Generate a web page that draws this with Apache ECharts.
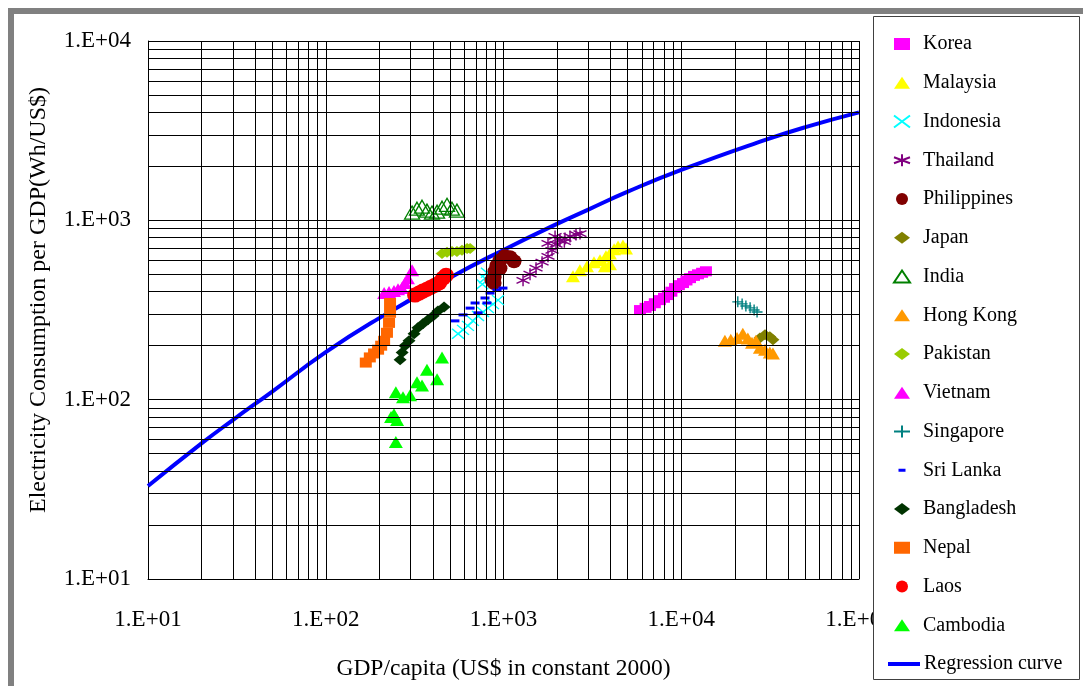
<!DOCTYPE html>
<html>
<head>
<meta charset="utf-8">
<script src="https://cdn.jsdelivr.net/npm/echarts@6/dist/echarts.min.js"></script>
<style>html,body{margin:0;padding:0;background:#fff;}#c{width:1083px;height:686px;}</style>
</head>
<body>
<div id="c"></div>
<script>
// ---- data (GDP/capita in US$, electricity per GDP in Wh/US$) ----
const xTickLabels = ['1.E+01', '1.E+02', '1.E+03', '1.E+04', '1.E+05'];
const yTickLabels = ['1.E+01', '1.E+02', '1.E+03', '1.E+04'];
const minorX = [20,30,40,50,60,70,80,90,200,300,400,500,600,700,800,900,2000,3000,4000,5000,6000,7000,8000,9000,20000,30000,40000,50000,60000,70000,80000,90000];
const minorY = [20,30,40,50,60,70,80,90,200,300,400,500,600,700,800,900,2000,3000,4000,5000,6000,7000,8000,9000];

const korea = [[5860,316],[6300,325],[6670,333],[7100,345],[7590,359],[8000,370],[8410,383],[8800,400],[9220,419],[9700,435],[10230,447],[10700,462],[11200,476],[11800,490],[12420,500],[13100,510],[13770,520]];
const malaysia = [[2460,488],[2690,527],[2950,555],[3230,584],[3490,599],[3720,555],[3970,569],[3770,630],[3970,654],[4190,689],[4410,715],[4700,724],[4890,697]];
const indonesia = [[555,233],[592,245],[631,258],[673,275],[719,293],[767,308],[818,324],[873,341],[931,359],[760,440],[787,475],[807,510]];
const thailand = [[1288,463],[1410,501],[1524,541],[1648,584],[1780,630],[1874,680],[1974,734],[2078,773],[2218,793],[2366,813],[2558,834],[2694,844],[1780,743],[1950,813],[2200,760]];
const philippines = [[862,463],[885,447],[885,482],[896,520],[919,561],[955,598],[1019,630],[1088,622],[1146,591],[955,541]];
const japan = [[27700,221],[29600,230],[31500,224],[32800,216]];
const india = [[306,1105],[326,1161],[348,1191],[371,1133],[396,1105],[423,1118],[451,1176],[481,1221],[513,1161],[547,1133]];
const hongKong = [[17600,213],[19000,216],[20600,221],[22200,233],[23700,219],[25000,208],[26300,213],[27700,195],[29600,190],[31500,183],[32800,181]];
const pakistan = [[451,654],[481,663],[513,671],[547,671],[584,680],[624,697],[649,697]];
const vietnam = [[213,393],[227,398],[242,403],[255,413],[268,419],[279,447],[290,476],[306,527]];
const singapore = [[20800,351],[22000,342],[23100,333],[24400,325],[25700,316],[26700,308]];
const sriLanka = [[533,275],[592,297],[649,324],[692,346],[719,305],[787,369],[807,346],[840,393],[919,408],[993,419]];
const bangladesh = [[262,167],[269,183],[279,200],[294,213],[314,233],[330,252],[352,265],[376,279],[401,293],[428,312],[463,329]];
const nepal = [[168,161],[177,172],[187,181],[197,190],[205,200],[213,213],[221,236],[227,268],[230,305],[230,346]];
const laos = [[318,383],[335,393],[352,403],[371,413],[391,424],[412,435],[434,447],[457,476],[475,494]];
const cambodia = [[248,58],[242,83],[252,77],[233,80],[248,110],[272,103],[298,106],[326,125],[348,120],[371,147],[423,130],[451,172]];
const regression = [[10,33],[20,57],[30,77],[50,111],[100,184],[200,285],[500,479],[1000,684],[2000,955],[3000,1148],[5000,1445],[10000,1910],[30000,2818],[50000,3311],[100000,4000]];

// ---- chart ----
const SERIF = 'Liberation Serif';
const crossPath = 'path://M0,0L10,10M10,0L0,10';
const starPath = 'path://M5,0L5,10M0,2.5L10,7.5M0,7.5L10,2.5';
const plusPath = 'path://M5,0L5,10M0,5L10,5';
const dashIcon = 'path://M0,0L0.01,0M16,12L15.99,12M4.5,4.5L11.5,4.5L11.5,7.5L4.5,7.5Z';

function sc(name, data, symbol, size, color, extra) {
  const s = {
    name: name, type: 'scatter', data: data, symbol: symbol, symbolSize: size, z: 3,
    itemStyle: { color: color, opacity: 1 }
  };
  if (extra) Object.assign(s.itemStyle, extra);
  return s;
}
function lineStroke(c) { return { color: 'rgba(0,0,0,0)', borderColor: c, borderWidth: 1.4 }; }

const series = [
  { name: 'gridlines', type: 'line', data: [], z: 1, silent: true,
    markLine: { silent: true, symbol: ['none', 'none'], animation: false,
      label: { show: false },
      lineStyle: { color: '#000', width: 1, type: 'solid' },
      data: minorX.map(v => ({ xAxis: v })).concat(minorY.map(v => ({ yAxis: v }))) } },
  sc('Korea', korea, 'rect', [12, 10], '#ff00ff'),
  sc('Malaysia', malaysia, 'triangle', [14, 12], '#ffff00'),
  sc('Indonesia', indonesia, crossPath, [12, 10], '#00ffff', lineStroke('#00ffff')),
  sc('Thailand', thailand, starPath, [13, 12], '#800080', lineStroke('#800080')),
  sc('Philippines', philippines, 'circle', [15, 14], '#800000'),
  sc('Japan', japan, 'diamond', [13, 11], '#808000'),
  sc('India', india, 'triangle', [15, 13], '#008000', { color: 'rgba(255,255,255,0)', borderColor: '#008000', borderWidth: 1.3 }),
  sc('Hong Kong', hongKong, 'triangle', [14, 12], '#ff9900'),
  sc('Pakistan', pakistan, 'diamond', [13, 11], '#99cc00'),
  sc('Vietnam', vietnam, 'triangle', [14, 12], '#ff00ff'),
  sc('Singapore', singapore, plusPath, [11, 11], '#008080', lineStroke('#008080')),
  sc('Sri Lanka', sriLanka, 'rect', [9, 3], '#0000ff'),
  sc('Bangladesh', bangladesh, 'diamond', [13, 11], '#003300'),
  sc('Nepal', nepal, 'rect', [12, 10], '#ff6600'),
  sc('Laos', laos, 'circle', [16, 15], '#ff0000'),
  sc('Cambodia', cambodia, 'triangle', [14, 12], '#00ff00'),
  { name: 'Regression curve', type: 'line', data: regression, smooth: true, symbol: 'none', z: 2,
    lineStyle: { color: '#0000ff', width: 4 }, itemStyle: { color: '#0000ff' } }
];

const countryNames = ['Korea','Malaysia','Indonesia','Thailand','Philippines','Japan','India','Hong Kong','Pakistan','Vietnam','Singapore','Sri Lanka','Bangladesh','Nepal','Laos','Cambodia'];
const legendCountries = countryNames.map(n => n === 'Sri Lanka' ? { name: n, icon: dashIcon } : n);

const chart = echarts.init(document.getElementById('c'), null, { renderer: 'canvas' });
chart.setOption({
  backgroundColor: '#ffffff',
  animation: false,
  grid: { left: 148, right: 224, top: 41, bottom: 103, containLabel: false },
  xAxis: {
    type: 'log', logBase: 10, min: 10, max: 100000,
    name: 'GDP/capita (US$ in constant 2000)', nameLocation: 'middle', nameGap: 78,
    nameTextStyle: { fontFamily: SERIF, fontSize: 23.5, color: '#000' },
    axisLine: { show: true, lineStyle: { color: '#000', width: 1 } },
    axisTick: { show: false },
    axisLabel: { fontFamily: SERIF, fontSize: 23, color: '#000', margin: 29,
      formatter: v => xTickLabels[Math.round(Math.log10(v)) - 1] },
    splitLine: { show: true, lineStyle: { color: '#000', width: 1 } }
  },
  yAxis: {
    type: 'log', logBase: 10, min: 10, max: 10000,
    name: 'Electricity Consumption per GDP(Wh/US$)', nameLocation: 'middle', nameGap: 97,
    nameTextStyle: { fontFamily: SERIF, fontSize: 24, color: '#000', padding: [0, 0, 0, 20] },
    axisLine: { show: true, lineStyle: { color: '#000', width: 1 } },
    axisTick: { show: false },
    axisLabel: { fontFamily: SERIF, fontSize: 23, color: '#000', margin: 17,
      formatter: v => yTickLabels[Math.round(Math.log10(v)) - 1] },
    splitLine: { show: true, lineStyle: { color: '#000', width: 1 } }
  },
  legend: [
    {
      data: legendCountries, orient: 'vertical', left: 893, top: 34, padding: 0,
      itemWidth: 16, itemHeight: 12, itemGap: 18.75, z: 10, symbolKeepAspect: false,
      textStyle: { fontFamily: SERIF, fontSize: 20, lineHeight: 20, color: '#000', padding: [0, 0, 0, 8] },
      selectedMode: false
    },
    {
      data: ['Regression curve'], orient: 'vertical', left: 886, top: 654, padding: 0,
      itemWidth: 32, itemHeight: 10, z: 10,
      itemStyle: { color: 'rgba(0,0,0,0)', borderWidth: 0, opacity: 0 },
      lineStyle: { color: '#0000ff', width: 4 },
      textStyle: { fontFamily: SERIF, fontSize: 20, lineHeight: 20, color: '#000', padding: [0, 0, 0, -1] },
      selectedMode: false
    }
  ],
  graphic: [
    { type: 'rect', z: 5, shape: { x: 8, y: 8, width: 1075, height: 6 }, style: { fill: '#808080' } },
    { type: 'rect', z: 5, shape: { x: 8, y: 8, width: 6, height: 678 }, style: { fill: '#808080' } },
    { type: 'rect', z: 5, shape: { x: 873.5, y: 16.5, width: 206, height: 663 }, style: { fill: '#ffffff', stroke: '#404040', lineWidth: 1 } }
  ],
  series: series
});
</script>
</body>
</html>
